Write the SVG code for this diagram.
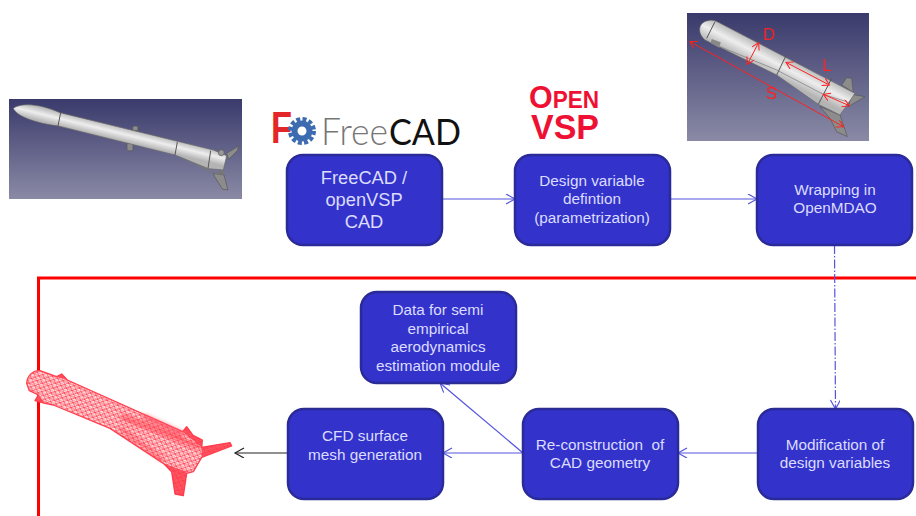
<svg xmlns="http://www.w3.org/2000/svg" width="916" height="516" viewBox="0 0 916 516">
<style>
.box{fill:#3333cc;stroke:#2a2a99;stroke-width:2.5}
.t{font-family:"Liberation Sans",Arial,sans-serif;font-size:15.3px;fill:#dcdcff;text-anchor:middle}
.t1{font-size:18.3px}
.c{fill:none;stroke:#5555dd;stroke-width:1.2}
.r{fill:none;stroke:#ff2020;stroke-width:3}
.rt{font-family:"Liberation Sans",Arial,sans-serif;font-size:50px;fill:#ff2020;text-anchor:middle}
.fin{fill:#8c8c8c;stroke:#555;stroke-width:2}
.seam{fill:none;stroke:#555;stroke-width:3}
</style>
<defs>
<linearGradient id="bg" x1="0" y1="0" x2="0" y2="1"><stop offset="0" stop-color="#3a3a6c"/><stop offset="1" stop-color="#8a8aa6"/></linearGradient>
<linearGradient id="metal1" gradientUnits="userSpaceOnUse" x1="184" y1="68" x2="174.500" y2="107"><stop offset="0" stop-color="#bcbcbc"/><stop offset="0.45" stop-color="#eeeeee"/><stop offset="1" stop-color="#b4b4b4"/></linearGradient>
<linearGradient id="metal2" gradientUnits="userSpaceOnUse" x1="115" y1="52" x2="85" y2="110"><stop offset="0" stop-color="#bcbcbc"/><stop offset="0.45" stop-color="#eeeeee"/><stop offset="1" stop-color="#b4b4b4"/></linearGradient>
<pattern id="mesh" width="18" height="16" patternUnits="userSpaceOnUse" patternTransform="rotate(24)">
<rect width="18" height="16" fill="#ffdadd"/>
<path d="M0 0H18M0 8H18M0 0L9 8L18 0M0 16L9 8L18 16" fill="none" stroke="#ff3040" stroke-width="2"/>
</pattern>
<filter id="soft" x="-5%" y="-5%" width="110%" height="110%"><feGaussianBlur stdDeviation="0.5"/></filter>
<filter id="soft3" x="-10%" y="-10%" width="120%" height="120%"><feGaussianBlur stdDeviation="6"/></filter>
<marker id="a" markerWidth="12" markerHeight="12" refX="10" refY="5" orient="auto" markerUnits="userSpaceOnUse"><path d="M1 0L10 5L1 10" fill="none" stroke="#5555dd" stroke-width="1.2"/></marker>
<marker id="k" markerWidth="12" markerHeight="12" refX="10" refY="5" orient="auto" markerUnits="userSpaceOnUse"><path d="M1 0L10 5L1 10" fill="none" stroke="#222" stroke-width="1.2"/></marker>
<marker id="ra" markerWidth="30" markerHeight="30" refX="22" refY="12" orient="auto-start-reverse" markerUnits="userSpaceOnUse"><path d="M2 0L22 12L2 24" fill="none" stroke="#ff2020" stroke-width="3"/></marker>
</defs>

<g id="freecad-render">
<rect x="9" y="99" width="233" height="100" fill="url(#bg)"/>
<g transform="translate(0,90) scale(0.33333)" filter="url(#soft)">
<path class="fin" d="M680 190L716 168L712 182L686 208Z"/>
<path class="fin" d="M640 250L672 255L684 300L668 298L645 262Z"/>
<path class="fin" d="M398 112a9 8 0 0 1 16 0v10h-16Z"/>
<path class="fin" d="M381 160h18v18a9 5 0 0 1-18 0Z"/>
<path d="M40 55C60 40 110 38 180 68L640 180L680 197L670 240L625 236L525 195L175 108C110 100 50 80 40 55Z" fill="url(#metal1)" stroke="#666" stroke-width="2"/>
<path class="seam" d="M182 68L174 108M532 156L525 195M632 182L624 236"/>
<path d="M528 195L625 236L640 250L670 240L672 255L640 250Z" fill="#777"/>
<circle cx="664" cy="188" r="9" fill="#999" stroke="#555" stroke-width="2"/>
</g>
</g>

<g id="freecad-logo">
<text x="271" y="143" font-family="'Liberation Sans',Arial,sans-serif" font-weight="700" font-size="45" fill="#e3262a" textLength="21" lengthAdjust="spacingAndGlyphs">F</text>
<circle cx="302" cy="131" r="7.500" fill="none" stroke="#3c6bb0" stroke-width="6"/>
<circle cx="302" cy="131" r="12" fill="none" stroke="#3c6bb0" stroke-width="4" stroke-dasharray="4 2.300"/>
<text x="321" y="145" font-family="Lato,'Liberation Sans',sans-serif" font-weight="300" font-size="37" fill="#777" textLength="67" lengthAdjust="spacingAndGlyphs">Free</text>
<text x="389" y="145" font-family="Lato,'Liberation Sans',sans-serif" font-weight="400" font-size="37" fill="#111" textLength="72" lengthAdjust="spacingAndGlyphs">CAD</text>
</g>

<g id="openvsp-logo" font-family="'Liberation Sans',Arial,sans-serif" font-weight="700" fill="#ee1133">
<text x="529" y="108" font-size="31" textLength="70" lengthAdjust="spacingAndGlyphs">O<tspan font-size="23">PEN</tspan></text>
<text x="531" y="139" font-size="35" textLength="68" lengthAdjust="spacingAndGlyphs">VSP</text>
</g>

<g id="parametrized-render">
<rect x="687" y="13" width="182" height="128" fill="url(#bg)"/>
<g transform="translate(680,5) scale(0.33333)" filter="url(#soft)">
<path class="fin" d="M485 240L500 218L515 220L520 262Z"/>
<path class="fin" d="M515 268L555 275L505 305Z"/>
<path class="fin" d="M420 305L480 330L502 395L470 380L450 340Z"/>
<path d="M75 105C50 85 55 50 85 47C95 44 105 46 115 52L525 265L480 330L415 298L290 210L75 105Z" fill="url(#metal2)" stroke="#666" stroke-width="2"/>
<path class="seam" d="M318 152L290 210M455 220L415 298M105 50L80 100"/>
<path d="M95 102L122 112L118 128L92 115Z" fill="#888"/>
<path d="M120 125L290 195L430 268L500 290" fill="none" stroke="#777" stroke-width="2"/>
<path class="r" d="M30 110L490 365" marker-start="url(#ra)" marker-end="url(#ra)"/>
<path class="r" d="M236 113L202 178" marker-start="url(#ra)" marker-end="url(#ra)"/>
<path class="r" d="M318 172L448 240" marker-start="url(#ra)" marker-end="url(#ra)"/>
<path class="r" d="M430 268L508 302" marker-start="url(#ra)" marker-end="url(#ra)"/>
<text class="rt" x="268" y="104">D</text>
<text class="rt" x="441" y="198">L</text>
<text class="rt" x="274" y="281">S</text>
</g>
</g>

<g id="frame" fill="none" stroke="#ff0000" stroke-width="3">
<path d="M916 278H38.500V516"/>
</g>

<g id="mesh-render" transform="translate(10,360) scale(0.33333)">
<path d="M50 70C52 45 70 30 90 32L140 50L155 42L172 60L518 215L530 200L548 225L577 240L575 262L660 248L665 258L575 292L550 335L530 340L520 407L495 402L485 335L460 310L300 205L130 135L105 130L75 122L85 105L58 92Z" fill="url(#mesh)" stroke="#ff4050" stroke-width="4" stroke-linejoin="round"/>
<g filter="url(#soft3)" opacity="0.75">
<path d="M335 170L570 262" fill="none" stroke="#ff3040" stroke-width="12"/>
<path d="M330 205L460 300" fill="none" stroke="#ff3040" stroke-width="8"/>
<path d="M400 170L520 225" fill="none" stroke="#ff5060" stroke-width="16"/>
</g>
<path d="M460 310L530 335L520 407L495 402L485 335Z M575 262L660 248L665 258L575 292Z M140 50L155 42L172 60Z M75 122L85 105L105 130Z M518 215L530 200L548 225L577 240L575 262Z" fill="#ff3848" opacity="0.8"/>
</g>

<g id="connectors">
<path class="c" d="M442 199H515" marker-end="url(#a)"/>
<path class="c" d="M670 199H757" marker-end="url(#a)"/>
<path class="c" d="M834.500 245L835.500 409" stroke-dasharray="9 2 1.500 2" marker-end="url(#a)"/>
<path class="c" d="M758 453H678" marker-end="url(#a)"/>
<path class="c" d="M523 453H443" marker-end="url(#a)"/>
<path class="c" d="M523 453L440 383" marker-end="url(#a)"/>
<path d="M288 453H235" fill="none" stroke="#222" stroke-width="1.200" marker-end="url(#k)"/>
</g>

<g id="node-cad"><rect class="box" x="287" y="155" width="155" height="90" rx="16"/>
<text class="t t1" x="364" y="184">FreeCAD /</text><text class="t t1" x="364" y="206">openVSP</text><text class="t t1" x="364" y="228">CAD</text></g>
<g id="node-param"><rect class="box" x="515" y="155" width="155" height="90" rx="16"/>
<text class="t" x="592" y="186">Design variable</text><text class="t" x="592" y="204">defintion</text><text class="t" x="592" y="223">(parametrization)</text></g>
<g id="node-wrap"><rect class="box" x="757" y="155" width="155" height="90" rx="16"/>
<text class="t" x="835" y="195">Wrapping in</text><text class="t" x="835" y="213">OpenMDAO</text></g>
<g id="node-data"><rect class="box" x="361" y="292" width="155" height="91" rx="16"/>
<text class="t" x="438" y="315">Data for semi</text><text class="t" x="438" y="334">empirical</text><text class="t" x="438" y="352">aerodynamics</text><text class="t" x="438" y="371">estimation module</text></g>
<g id="node-cfd"><rect class="box" x="288" y="409" width="155" height="90" rx="16"/>
<text class="t" x="365" y="441">CFD surface</text><text class="t" x="365" y="460">mesh generation</text></g>
<g id="node-recon"><rect class="box" x="523" y="409" width="155" height="90" rx="16"/>
<text class="t" x="600" y="450">Re-construction&#160; of</text><text class="t" x="600" y="468">CAD geometry</text></g>
<g id="node-mod"><rect class="box" x="758" y="409" width="155" height="90" rx="16"/>
<text class="t" x="835" y="450">Modification of</text><text class="t" x="835" y="468">design variables</text></g>
</svg>
